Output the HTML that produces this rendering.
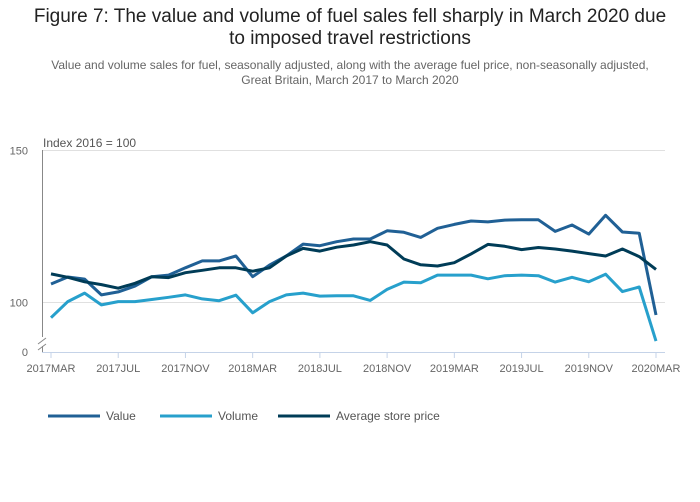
<!DOCTYPE html>
<html><head><meta charset="utf-8">
<style>
body{margin:0;background:#fff;font-family:"Liberation Sans",sans-serif;}
#wrap{position:relative;width:700px;height:502px;overflow:hidden;}
.t{position:absolute;left:0;width:700px;text-align:center;}
</style></head><body>
<div id="wrap">
<div class="t" style="top:6px;font-size:19px;color:#222;line-height:22px;">Figure 7: The value and volume of fuel sales fell sharply in March 2020 due<br>to imposed travel restrictions</div>
<div class="t" style="top:58px;font-size:12px;color:#666;line-height:15px;">Value and volume sales for fuel, seasonally adjusted, along with the average fuel price, non-seasonally adjusted,<br>Great Britain, March 2017 to March 2020</div>
<svg id="svg" width="700" height="502" style="position:absolute;left:0;top:0"></svg>
</div>
<script>
const months = ["2017MAR","APR","MAY","JUN","2017JUL","AUG","SEP","OCT","2017NOV","DEC","JAN","FEB","2018MAR","APR","MAY","JUN","2018JUL","AUG","SEP","OCT","2018NOV","DEC","JAN","FEB","2019MAR","APR","MAY","JUN","2019JUL","AUG","SEP","OCT","2019NOV","DEC","JAN","FEB","2020MAR"];
const tickLabels = ["2017MAR","2017JUL","2017NOV","2018MAR","2018JUL","2018NOV","2019MAR","2019JUL","2019NOV","2020MAR"];
const yTicks = [100,150];
const valueSeries = [106.1,108.4,107.7,102.5,103.5,105.4,108.5,109,111.4,113.7,113.7,115.3,108.5,112.3,115.3,119.2,118.7,120,120.9,120.9,123.6,123.1,121.4,124.4,125.7,126.8,126.5,127.1,127.2,127.2,123.4,125.5,122.5,128.7,123.2,122.8,95.9];
const volumeSeries = [95,100.3,103.1,99.2,100.3,100.3,101,101.7,102.5,101.2,100.6,102.4,96.6,100.3,102.5,103.1,102.1,102.2,102.2,100.7,104.3,106.7,106.5,109,109,109,107.8,108.8,109,108.8,106.7,108.3,106.8,109.3,103.6,105.1,87.3];
const priceSeries = [109.4,108.3,106.8,105.9,104.7,106.3,108.5,108.2,109.8,110.6,111.4,111.4,110.3,111.4,115.3,117.8,116.9,118.2,118.9,120,118.9,114.3,112.4,112,113.1,116,119.1,118.5,117.4,118.1,117.6,116.9,116.1,115.3,117.6,115.1,110.9];

const svg = document.getElementById('svg');
const NS = 'http://www.w3.org/2000/svg';
const x0 = 51, x1 = 656;
const xScale = i => x0 + (x1 - x0) * i / (months.length - 1);
const yScale = v => 302.5 - (v - 100) * 3.04;
function mk(tag, attrs){const e=document.createElementNS(NS,tag);for(const k in attrs)e.setAttribute(k,attrs[k]);svg.appendChild(e);return e;}

yTicks.forEach(v=>{
  const g = mk('line',{x1:42,x2:665,y1:yScale(v),y2:yScale(v),stroke:'#e0e0e0','stroke-width':1});
  
  
  const t = mk('text',{x:28,y:yScale(v)+4,'text-anchor':'end','font-size':11,fill:'#666'});
  t.textContent = v;
  
  
});
const z = mk('text',{x:28,y:356,'text-anchor':'end','font-size':11,fill:'#666'});
z.textContent='0';



const ya = mk('path',{d:'M42.5,150 V337 M38,344 L46,338 M38,350 L46,344 M42.5,346 V352',stroke:'#888','stroke-width':1,fill:'none'});


const xa = mk('line',{x1:42,x2:665,y1:352.5,y2:352.5,stroke:'#c5d3e8','stroke-width':1});


const yt = mk('text',{x:43,y:147,'font-size':12,fill:'#555'});
yt.textContent='Index 2016 = 100';



months.forEach((m,i)=>{
  if(tickLabels.indexOf(m)<0) return;
  const tk = mk('line',{x1:xScale(i),x2:xScale(i),y1:352,y2:358,stroke:'#c5d3e8'});
  
  
  const t = mk('text',{x:xScale(i),y:372,'text-anchor':'middle','font-size':11,fill:'#666'});
  t.textContent=m;
  
  
});

function line(data,color,name){
  const d = data.map((v,i)=>(i?'L':'M')+xScale(i).toFixed(1)+','+yScale(v).toFixed(1)).join(' ');
  const p = mk('path',{d:d,stroke:color,'stroke-width':3,fill:'none','stroke-linejoin':'round'});
  
  
}
line(volumeSeries,'#27a0cc','volume-line');
line(valueSeries,'#206095','value-line');
line(priceSeries,'#003c57','average-price-line');

const legend = [['Value','#206095',48],['Volume','#27a0cc',160],['Average store price','#003c57',278]];
legend.forEach(l=>{
  const s = mk('line',{x1:l[2],x2:l[2]+52,y1:416,y2:416,stroke:l[1],'stroke-width':3});
  
  
  const t = mk('text',{x:l[2]+58,y:420,'font-size':12,fill:'#555'});
  t.textContent=l[0];
  
  
});
</script>
</body></html>
